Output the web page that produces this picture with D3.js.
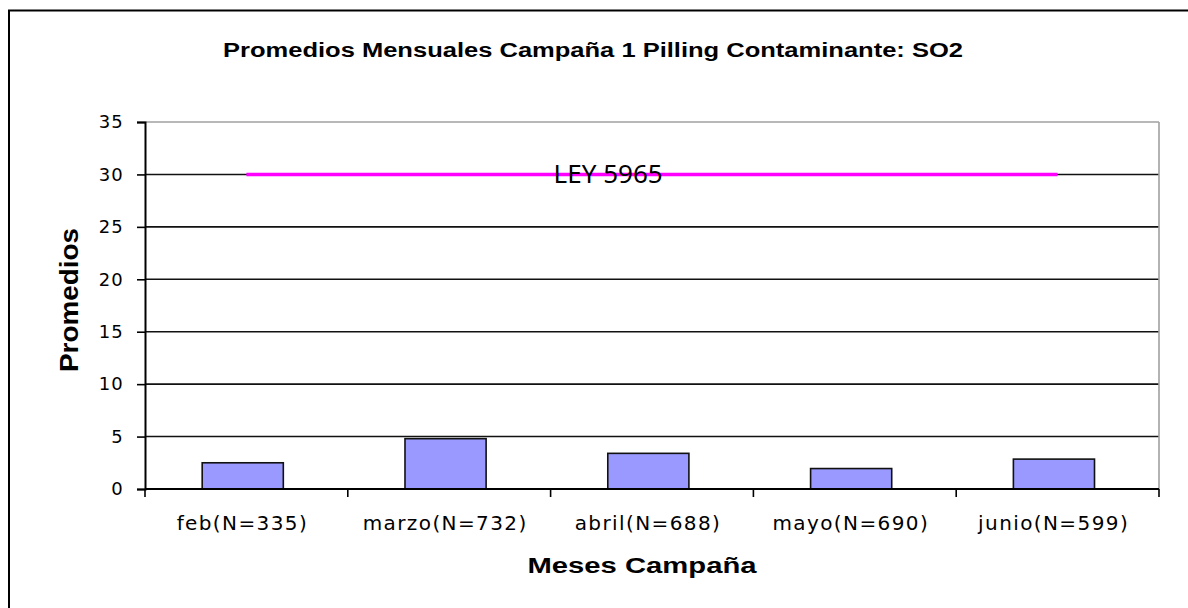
<!DOCTYPE html>
<html>
<head>
<meta charset="utf-8">
<script src="https://cdn.jsdelivr.net/npm/d3@7"></script>
<style>
  body { margin: 0; background: #fff; }
  text { font-family: "Liberation Sans", Arial, sans-serif; fill: #000; }
</style>
</head>
<body>
<div id="chart"></div>
<script>
// data
var meses = ['feb(N=335)', 'marzo(N=732)', 'abril(N=688)', 'mayo(N=690)', 'junio(N=599)'];
var promedios = [2.5, 4.8, 3.4, 1.95, 2.85];
var ley = [30, 30, 30, 30, 30];
var yTicks = [0, 5, 10, 15, 20, 25, 30, 35];

var svgWidth = 1188, svgHeight = 608;
var margin = {top: 122, right: 29, bottom: 119, left: 145},
    width = svgWidth - margin.left - margin.right,
    height = svgHeight - margin.top - margin.bottom;

var svg = d3.select('#chart').append('svg')
    .attr('width', svgWidth)
    .attr('height', svgHeight);

// outer frame (cut off at right and bottom like the picture)
svg.append('path')
    .attr('d', 'M9,' + (svgHeight + 5) + 'V10.5H' + (svgWidth + 5))
    .attr('fill', 'none')
    .attr('stroke', '#000')
    .attr('stroke-width', 2);

var chartGroup = svg.append('g')
    .attr('transform', `translate(${margin.left}, ${margin.top})`);

var x = d3.scaleBand()
    .domain(meses)
    .range([0, width])
    .paddingInner(0.6)
    .paddingOuter(0.3)
    .align(0.47);

var y = d3.scaleLinear()
    .domain([0, 35])
    .range([height, 0]);

// gridlines
chartGroup.append('g')
    .selectAll('line')
    .data(yTicks.filter(d => d > 0))
    .enter()
    .append('line')
    .attr('x1', 0)
    .attr('x2', width)
    .attr('y1', d => y(d))
    .attr('y2', d => y(d))
    .attr('stroke', d => d === 35 ? '#a0a0a0' : '#111')
    .attr('stroke-width', 1.6);

// right border of plot
chartGroup.append('line')
    .attr('x1', width).attr('x2', width)
    .attr('y1', 0).attr('y2', height)
    .attr('stroke', '#a0a0a0')
    .attr('stroke-width', 1.6);

// bars
chartGroup.selectAll('.bar')
    .data(promedios)
    .enter()
    .append('rect')
    .attr('class', 'bar')
    .attr('x', (d, i) => x(meses[i]))
    .attr('y', d => y(d))
    .attr('width', x.bandwidth())
    .attr('height', d => y(0) - y(d))
    .attr('fill', '#9999FF')
    .attr('stroke', '#111')
    .attr('stroke-width', 1.6);

// limit line
var line = d3.line()
    .x((d, i) => x.step() * (i + 0.5))
    .y(d => y(d));

chartGroup.append('path')
    .datum(ley)
    .attr('d', line)
    .attr('fill', 'none')
    .attr('stroke', '#FF00FF')
    .attr('stroke-width', 3.5);

chartGroup.append('text')
    .attr('x', x.step() * 2 + 3)
    .attr('y', y(30) + 9)
    .style('font-family', '"Noto Sans", sans-serif')
    .attr('font-size', 26)
    .text('LEY 5965');

// y axis
var leftAxis = d3.axisLeft(y)
    .tickValues(yTicks)
    .tickSize(8)
    .tickPadding(13);
var yAxis = chartGroup.append('g').call(leftAxis);
yAxis.select('.domain').attr('stroke', '#000').attr('stroke-width', 2);
yAxis.selectAll('.tick line').attr('stroke', '#000').attr('stroke-width', 1.6);
yAxis.selectAll('.tick text')
    .attr('font-size', 18)
    .attr('letter-spacing', 1.2)
    .style('font-family', '"DejaVu Sans", sans-serif');

// x axis: ticks sit on category boundaries
var bottom = chartGroup.append('g')
    .attr('transform', `translate(0, ${height})`);
bottom.append('line')
    .attr('x1', 0).attr('x2', width)
    .attr('stroke', '#000')
    .attr('stroke-width', 2);
bottom.selectAll('.xtick')
    .data(d3.range(meses.length + 1))
    .enter()
    .append('line')
    .attr('class', 'xtick')
    .attr('x1', i => i * x.step())
    .attr('x2', i => i * x.step())
    .attr('y1', 0)
    .attr('y2', 8)
    .attr('stroke', '#000')
    .attr('stroke-width', 1.6);
bottom.selectAll('.xlabel')
    .data(meses)
    .enter()
    .append('text')
    .attr('class', 'xlabel')
    .attr('x', (d, i) => x.step() * (i + 0.5) - 4)
    .attr('y', 41)
    .attr('text-anchor', 'middle')
    .style('font-family', '"DejaVu Sans", sans-serif')
    .attr('font-size', 20)
    .attr('letter-spacing', 1.4)
    .text(d => d);

// titles
svg.append('text')
    .attr('x', 593)
    .attr('y', 57)
    .attr('text-anchor', 'middle')
    .attr('font-size', 20)
    .attr('font-weight', 'bold')
    .attr('textLength', 740)
    .attr('lengthAdjust', 'spacingAndGlyphs')
    .text('Promedios Mensuales Campaña 1 Pilling Contaminante: SO2');

svg.append('text')
    .attr('x', 642)
    .attr('y', 573)
    .attr('text-anchor', 'middle')
    .attr('font-size', 22)
    .attr('font-weight', 'bold')
    .attr('textLength', 229)
    .attr('lengthAdjust', 'spacingAndGlyphs')
    .text('Meses Campaña');

svg.append('text')
    .attr('transform', 'translate(78, 300) rotate(-90)')
    .attr('text-anchor', 'middle')
    .attr('font-size', 25)
    .attr('font-weight', 'bold')
    .attr('textLength', 144)
    .attr('lengthAdjust', 'spacingAndGlyphs')
    .text('Promedios');
</script>
</body>
</html>
